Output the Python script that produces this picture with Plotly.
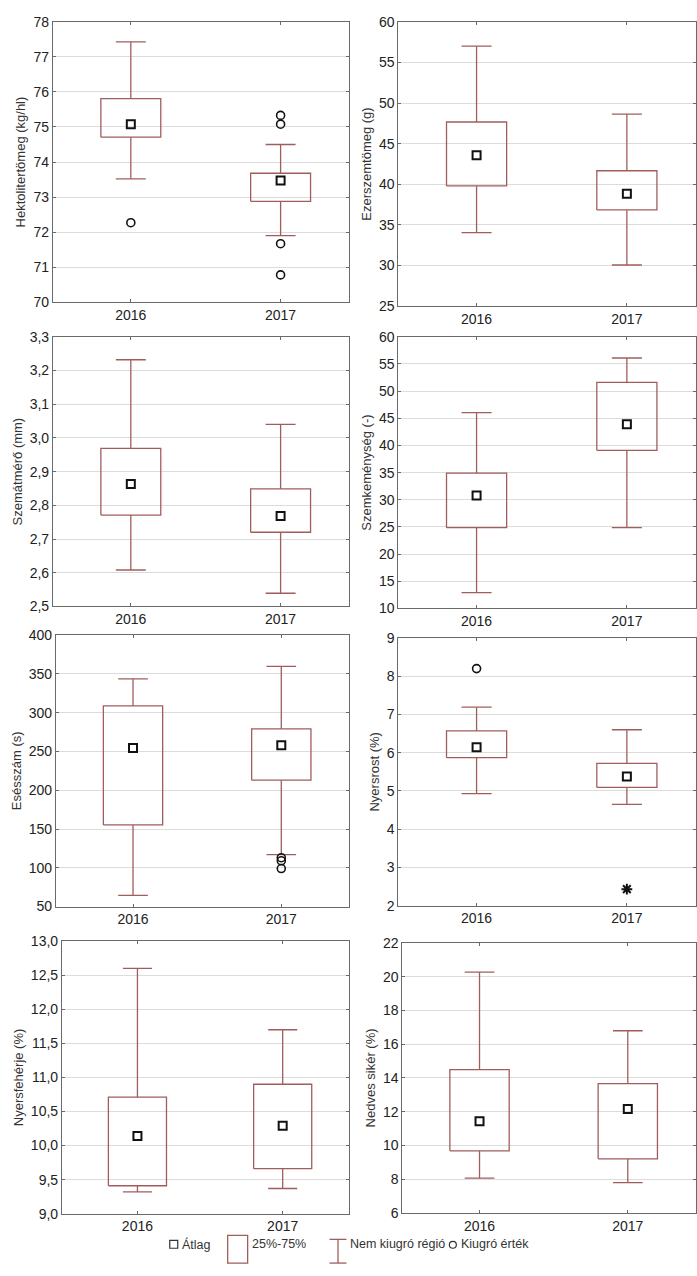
import plotly.graph_objects as go

# ---------------- data ----------------
YEARS = ["2016", "2017"]
LABELS = ["Hektolitertömeg (kg/hl)", "Ezerszemtömeg (g)", "Szemátmérő (mm)",
          "Szemkeménység (-)", "Esésszám (s)", "Nyersrost (%)",
          "Nyersfehérje (%)", "Nedves sikér (%)"]

MEAN_2016 = [75.08, 43.58, 2.863, 30.8, 254.5, 6.14, 10.14, 11.43]
MEAN_2017 = [73.47, 38.83, 2.768, 43.9, 257.9, 5.38, 10.29, 12.16]
Q1_2016 = [74.71, 39.80, 2.771, 24.85, 155.2, 5.87, 9.41, 9.67]
Q3_2016 = [75.81, 47.67, 2.969, 34.90, 308.8, 6.57, 10.71, 14.49]
Q1_2017 = [72.88, 36.85, 2.720, 39.10, 212.9, 5.09, 9.66, 9.20]
Q3_2017 = [73.68, 41.67, 2.849, 51.60, 279.1, 5.72, 10.90, 13.66]
LO_2016 = [73.52, 34.05, 2.608, 12.90, 64.4, 4.93, 9.32, 8.05]
HI_2016 = [77.43, 57.00, 3.232, 46.06, 343.6, 7.19, 12.60, 20.28]
LO_2017 = [71.90, 30.07, 2.539, 24.85, 117.0, 4.65, 9.37, 7.79]
HI_2017 = [74.50, 48.65, 3.040, 56.10, 359.7, 6.60, 11.70, 16.80]
OUTLIERS_2016 = [[72.27], [], [], [], [], [8.2], [], []]
OUTLIERS_2017 = [[75.33, 75.08, 71.67, 70.78], [], [], [], [113, 109, 99], [], [], []]
EXTREMES_2017 = [[], [], [], [], [], [2.43], [], []]

Y_MIN = [70, 25, 2.5, 10, 50, 2, 9.0, 6]
Y_MAX = [78, 60, 3.3, 60, 400, 9, 13.0, 22]
Y_STEP = [1, 5, 0.1, 5, 50, 1, 0.5, 2]
Y_FMT = ["d", "d", ".1f", "d", "d", "d", ".1f", "d"]

LEGEND_TEXT = ["Átlag", "25%-75%", "Nem kiugró régió", "Kiugró érték"]

# ---------------- styling / layout ----------------
W, H = 697, 1276
BOX_C = "#a25c5c"
GRID_C = "#dcdcdc"
FRAME_C = "#6a6a6a"
FONT = "Arial, Liberation Sans, sans-serif"
# panel plot areas in pixels: (left, right, top, bottom)
PANEL_PX = [(53, 350, 14, 298), (399, 697, 14, 302),
            (53, 350, 333, 606), (399, 697, 333, 608),
            (56, 350, 635, 910), (399, 697, 638, 909),
            (62, 350, 945, 1221), (403, 697, 947, 1220)]
BOX_HALF = 0.2
CAP_HALF = 0.1


def px_x(p):
    return p / W


def px_y(p):
    return 1 - p / H


fig = go.Figure()
year_stats = [
    (MEAN_2016, Q1_2016, Q3_2016, LO_2016, HI_2016, OUTLIERS_2016, None),
    (MEAN_2017, Q1_2017, Q3_2017, LO_2017, HI_2017, OUTLIERS_2017, EXTREMES_2017),
]

for k in range(8):
    xa = "x" if k == 0 else f"x{k+1}"
    ya = "y" if k == 0 else f"y{k+1}"
    for i, (mean, q1, q3, lo, hi, outl, extr) in enumerate(year_stats):
        # box
        fig.add_trace(go.Scatter(
            x=[i - BOX_HALF, i + BOX_HALF, i + BOX_HALF, i - BOX_HALF, i - BOX_HALF],
            y=[q1[k], q1[k], q3[k], q3[k], q1[k]],
            mode="lines", line=dict(color=BOX_C, width=1.3),
            xaxis=xa, yaxis=ya, showlegend=False, hoverinfo="skip"))
        # whiskers + caps
        fig.add_trace(go.Scatter(
            x=[i, i, None, i, i, None, i - CAP_HALF, i + CAP_HALF, None, i - CAP_HALF, i + CAP_HALF],
            y=[q3[k], hi[k], None, q1[k], lo[k], None, hi[k], hi[k], None, lo[k], lo[k]],
            mode="lines", line=dict(color=BOX_C, width=1.3),
            xaxis=xa, yaxis=ya, showlegend=False, hoverinfo="skip"))
        # mean
        fig.add_trace(go.Scatter(
            x=[i], y=[mean[k]], mode="markers",
            marker=dict(symbol="square-open", size=8, color="#111", line=dict(width=2)),
            xaxis=xa, yaxis=ya, showlegend=False))
        # outliers
        if outl[k]:
            fig.add_trace(go.Scatter(
                x=[i] * len(outl[k]), y=outl[k], mode="markers",
                marker=dict(symbol="circle-open", size=8, color="#111", line=dict(width=1.6)),
                xaxis=xa, yaxis=ya, showlegend=False))
        if extr is not None and extr[k]:
            fig.add_trace(go.Scatter(
                x=[i] * len(extr[k]), y=extr[k], mode="markers",
                marker=dict(symbol="asterisk-open", size=9, color="#111", line=dict(width=2)),
                xaxis=xa, yaxis=ya, showlegend=False))

    l, r, t, b = PANEL_PX[k]
    xkey = "xaxis" if k == 0 else f"xaxis{k+1}"
    ykey = "yaxis" if k == 0 else f"yaxis{k+1}"
    fig.update_layout(**{
        xkey: dict(domain=[px_x(l), px_x(r)], anchor=ya, range=[-0.52, 1.46],
                   tickvals=[0, 1], ticktext=YEARS, showgrid=False, zeroline=False,
                   showline=True, linecolor=FRAME_C, linewidth=1, mirror="ticks",
                   ticks="inside", ticklen=3, tickcolor=FRAME_C,
                   tickfont=dict(size=14, color="#222", family=FONT)),
        ykey: dict(domain=[px_y(b), px_y(t)], anchor=xa, range=[Y_MIN[k], Y_MAX[k]],
                   dtick=Y_STEP[k], tick0=Y_MIN[k], tickformat=Y_FMT[k],
                   showgrid=True, gridcolor=GRID_C, gridwidth=1, zeroline=False,
                   showline=True, linecolor=FRAME_C, linewidth=1, mirror="ticks",
                   ticks="inside", ticklen=3, tickcolor=FRAME_C,
                   tickfont=dict(size=14, color="#222", family=FONT),
                   title=dict(text=LABELS[k], standoff=4,
                              font=dict(size=13, color="#333", family=FONT))),
    })

# ---------------- legend (bottom) ----------------
shapes = [
    dict(type="rect", xref="paper", yref="paper",
         x0=px_x(170), x1=px_x(178), y0=px_y(1256), y1=px_y(1248),
         line=dict(color="#333", width=1.2)),
    dict(type="rect", xref="paper", yref="paper",
         x0=px_x(228), x1=px_x(248), y0=px_y(1271), y1=px_y(1243),
         line=dict(color=BOX_C, width=1.3)),
    dict(type="line", xref="paper", yref="paper",
         x0=px_x(338.5), x1=px_x(338.5), y0=px_y(1271), y1=px_y(1247),
         line=dict(color=BOX_C, width=1.3)),
    dict(type="line", xref="paper", yref="paper",
         x0=px_x(330), x1=px_x(347), y0=px_y(1247), y1=px_y(1247),
         line=dict(color=BOX_C, width=1.3)),
    dict(type="line", xref="paper", yref="paper",
         x0=px_x(330), x1=px_x(347), y0=px_y(1271), y1=px_y(1271),
         line=dict(color=BOX_C, width=1.3)),
    dict(type="circle", xref="paper", yref="paper",
         x0=px_x(450), x1=px_x(457), y0=px_y(1256), y1=px_y(1249),
         line=dict(color="#333", width=1.2)),
]
ann = []
for txt, xp in zip(LEGEND_TEXT, [180, 250, 348, 460]):
    ann.append(dict(text=txt, xref="paper", yref="paper", x=px_x(xp), y=px_y(1252),
                    xanchor="left", yanchor="middle", showarrow=False,
                    font=dict(size=12.5, color="#333", family=FONT)))

fig.update_layout(width=W, height=H, margin=dict(l=0, r=0, t=0, b=0),
                  paper_bgcolor="white", plot_bgcolor="white",
                  separators=", ", shapes=shapes, annotations=ann,
                  showlegend=False, font=dict(family=FONT))

fig.write_html("out.html",
               config={"displayModeBar": False},
               post_script="document.body.style.margin='0';"
                           "document.body.style.overflow='hidden';"
                           "document.documentElement.style.overflow='hidden';")
